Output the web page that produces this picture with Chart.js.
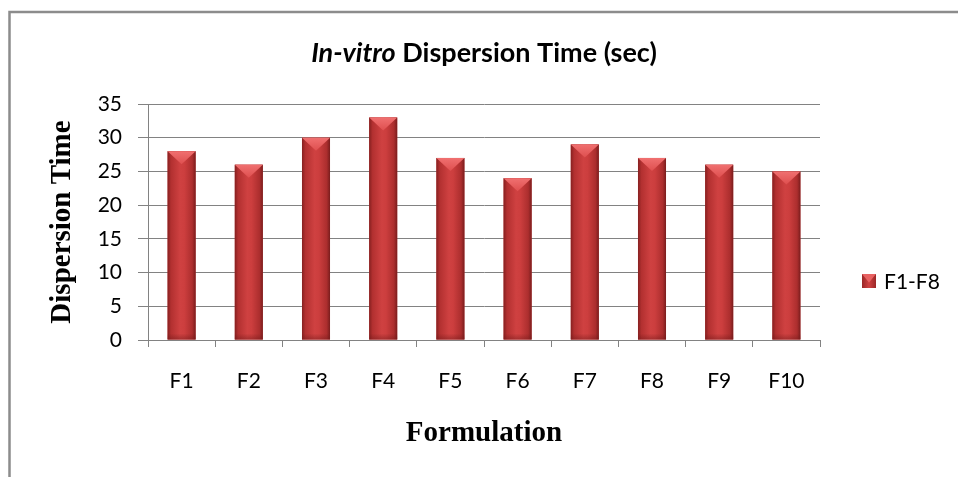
<!DOCTYPE html>
<html>
<head>
<meta charset="utf-8">
<script src="https://cdn.jsdelivr.net/npm/chart.js@4/dist/chart.umd.min.js"></script>
<style>
  html, body { margin: 0; padding: 0; background: #ffffff; }
  #wrap { width: 958px; height: 477px; }
</style>
</head>
<body>
<div id="wrap"><canvas id="c" width="958" height="477"></canvas></div>
<script>
// Formulations and their in-vitro dispersion time (seconds)
const categories = ['F1', 'F2', 'F3', 'F4', 'F5', 'F6', 'F7', 'F8', 'F9', 'F10'];
const dispersionTime = [28, 26, 30, 33, 27, 24, 29, 27, 26, 25];
const seriesLabel = 'F1-F8';
const titleItalic = 'In-vitro';
const titleRest = ' Dispersion Time (sec)';
const xTitle = 'Formulation';
const yTitle = 'Dispersion Time';
const yMin = 0, yMax = 35, yStep = 5;

const GRID = '#828282';
const labelFont = 'Lato, "DejaVu Sans", sans-serif';
const serifFont = '"Liberation Serif", "DejaVu Serif", serif';

// Outer frame of the chart object
const framePlugin = {
  id: 'frame',
  beforeDraw(chart) {
    const ctx = chart.ctx;
    ctx.save();
    ctx.fillStyle = '#ffffff';
    ctx.fillRect(0, 0, chart.width, chart.height);
    ctx.strokeStyle = '#8c8c8c';
    ctx.lineWidth = 2.5;
    ctx.beginPath();
    ctx.moveTo(9.5, chart.height);
    ctx.lineTo(9.5, 12);
    ctx.lineTo(chart.width, 12);
    ctx.stroke();
    ctx.restore();
  }
};

// Title with a mixed italic / upright run
const titlePlugin = {
  id: 'mixedTitle',
  afterDraw(chart) {
    const ctx = chart.ctx;
    ctx.save();
    ctx.fillStyle = '#000000';
    ctx.textBaseline = 'alphabetic';
    const fI = 'italic bold 27px ' + labelFont;
    const fB = 'bold 27px ' + labelFont;
    ctx.font = fI; const w1 = ctx.measureText(titleItalic).width;
    ctx.font = fB; const w2 = ctx.measureText(titleRest).width;
    const x0 = 484 - (w1 + w2) / 2;
    ctx.font = fI; ctx.fillText(titleItalic, x0, 62);
    ctx.font = fB; ctx.fillText(titleRest, x0 + w1, 62);
    ctx.restore();
  }
};

// Bevelled shading on each bar, drawn over the bar geometry Chart.js computed
const bevelPlugin = {
  id: 'bevel',
  afterDatasetsDraw(chart) {
    const ctx = chart.ctx;
    const meta = chart.getDatasetMeta(0);
    ctx.save();
    meta.data.forEach(bar => {
      const p = bar.getProps(['x', 'y', 'base', 'width'], true);
      const l = p.x - p.width / 2, r = p.x + p.width / 2;
      const top = p.y, bot = p.base, w = p.width;
      const g = ctx.createLinearGradient(l, 0, r, 0);
      g.addColorStop(0, '#862020');
      g.addColorStop(0.12, '#b23030');
      g.addColorStop(0.45, '#cf4141');
      g.addColorStop(0.6, '#cc3e3e');
      g.addColorStop(0.88, '#ac2e2e');
      g.addColorStop(1, '#7a1d1d');
      ctx.fillStyle = g;
      ctx.fillRect(l, top, w, bot - top);
      // lighter top cap with a downward point
      const capH = Math.min(13, (bot - top));
      const cg = ctx.createLinearGradient(0, top, 0, top + capH);
      cg.addColorStop(0, '#f07070');
      cg.addColorStop(1, '#de4f4f');
      ctx.fillStyle = cg;
      ctx.beginPath();
      ctx.moveTo(l, top);
      ctx.lineTo(r, top);
      ctx.lineTo(p.x, top + capH);
      ctx.closePath();
      ctx.fill();
      // darker strip along the base
      const bg = ctx.createLinearGradient(0, bot - 6, 0, bot);
      bg.addColorStop(0, 'rgba(110,25,25,0)');
      bg.addColorStop(1, 'rgba(110,25,25,0.45)');
      ctx.fillStyle = bg;
      ctx.fillRect(l, bot - 6, w, 6);
    });
    ctx.restore();
  }
};

// Legend entry on the right
const legendPlugin = {
  id: 'sideLegend',
  afterDraw(chart) {
    const ctx = chart.ctx;
    const ds = chart.data.datasets[0];
    ctx.save();
    const bx = 862, by = 274, bs = 14;
    const g = ctx.createLinearGradient(bx, 0, bx + bs, 0);
    g.addColorStop(0, '#9a2727');
    g.addColorStop(0.5, '#d04242');
    g.addColorStop(1, '#9a2727');
    ctx.fillStyle = g;
    ctx.fillRect(bx, by, bs, bs);
    ctx.fillStyle = '#e86262';
    ctx.beginPath();
    ctx.moveTo(bx, by); ctx.lineTo(bx + bs, by); ctx.lineTo(bx + bs / 2, by + bs * 0.6);
    ctx.closePath(); ctx.fill();
    ctx.fillStyle = '#000000';
    ctx.font = '21px ' + labelFont;
    ctx.textBaseline = 'middle';
    ctx.textAlign = 'left';
    ctx.fillText(ds.label, 884, by + bs / 2 + 1);
    ctx.restore();
  }
};

new Chart(document.getElementById('c'), {
  type: 'bar',
  data: {
    labels: categories,
    datasets: [{
      label: seriesLabel,
      data: dispersionTime,
      backgroundColor: '#c23a3a',
      borderWidth: 0,
      barPercentage: 0.417,
      categoryPercentage: 1.0
    }]
  },
  options: {
    responsive: false,
    animation: false,
    devicePixelRatio: 1,
    layout: { padding: { left: 12, right: 138, top: 104, bottom: 0 } },
    plugins: {
      legend: { display: false },
      title: { display: false },
      tooltip: { enabled: false }
    },
    scales: {
      x: {
        offset: true,
        grid: {
          offset: true,
          drawOnChartArea: false,
          drawTicks: true,
          tickLength: 7,
          color: GRID,
          lineWidth: 1
        },
        border: { display: true, color: GRID, width: 1 },
        ticks: {
          color: '#000000',
          font: { family: labelFont, size: 21 },
          padding: 22,
          maxRotation: 0
        },
        title: {
          display: true,
          text: xTitle,
          color: '#000000',
          font: { family: serifFont, size: 29, weight: 'bold' },
          padding: { top: 0, bottom: 26 }
        },
        afterFit(scale) { scale.height = 137; }
      },
      y: {
        min: yMin,
        max: yMax,
        grid: {
          color: GRID,
          lineWidth: 1,
          drawTicks: true,
          tickLength: 10
        },
        border: { display: true, color: GRID, width: 1 },
        ticks: {
          stepSize: yStep,
          color: '#000000',
          font: { family: labelFont, size: 21 },
          padding: 16
        },
        title: {
          display: true,
          text: yTitle,
          color: '#000000',
          font: { family: serifFont, size: 29, weight: 'bold' },
          padding: { top: 33, bottom: 0 }
        },
        afterFit(scale) { scale.width = 136; }
      }
    }
  },
  plugins: [framePlugin, bevelPlugin, titlePlugin, legendPlugin]
});
</script>
</body>
</html>
